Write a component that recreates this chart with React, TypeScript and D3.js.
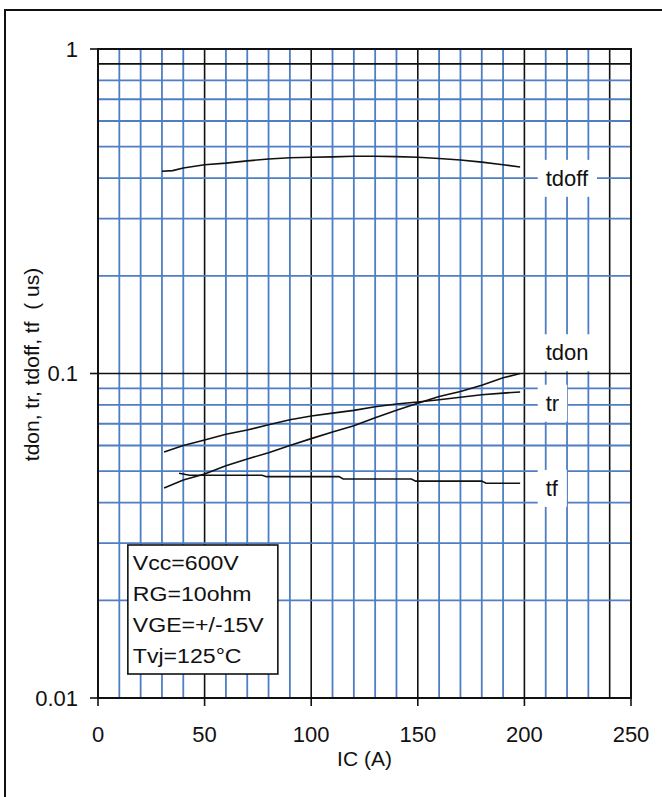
import { useEffect, useRef } from 'react';
import * as d3 from 'd3';

// switching times vs collector current (IC in A, time in us)
const tdoffData: [number, number][] = [
  [30, 0.42], [35, 0.422], [40, 0.43], [50, 0.44], [60, 0.445], [70, 0.452],
  [80, 0.458], [90, 0.462], [100, 0.464], [110, 0.465], [120, 0.467],
  [130, 0.467], [140, 0.466], [150, 0.464], [160, 0.46], [170, 0.455],
  [180, 0.448], [190, 0.44], [198, 0.433],
];
const tdonData: [number, number][] = [
  [31, 0.0444], [40, 0.047], [50, 0.049], [60, 0.052], [70, 0.0545],
  [80, 0.057], [90, 0.06], [100, 0.063], [110, 0.066], [120, 0.069],
  [130, 0.073], [140, 0.077], [150, 0.081], [160, 0.085], [170, 0.088],
  [180, 0.092], [190, 0.097], [198, 0.1],
];
const trData: [number, number][] = [
  [31, 0.0573], [40, 0.06], [50, 0.0624], [60, 0.065], [70, 0.067],
  [80, 0.0695], [90, 0.072], [100, 0.074], [110, 0.0755], [120, 0.077],
  [130, 0.079], [140, 0.0805], [150, 0.0817], [160, 0.083], [170, 0.0845],
  [180, 0.086], [190, 0.087], [198, 0.0877],
];
const tfData: [number, number][] = [
  [38, 0.0493], [43, 0.0486], [77, 0.0486], [79, 0.0481], [113, 0.0481],
  [115, 0.0473], [147, 0.0473], [149, 0.0466], [180, 0.0466], [182, 0.0459],
  [198, 0.0459],
];

const curves = [
  { name: 'tdoff', data: tdoffData, labelAt: 0.4 },
  { name: 'tdon', data: tdonData, labelAt: 0.116 },
  { name: 'tr', data: trData, labelAt: 0.0811 },
  { name: 'tf', data: tfData, labelAt: 0.0443 },
];

const xTicks = [0, 50, 100, 150, 200, 250];
const yTicks = [0.01, 0.1, 1];
const yTickLabels = ['0.01', '0.1', '1'];
const legendLines = ['Vcc=600V', 'RG=10ohm', 'VGE=+/-15V', 'Tvj=125°C'];

const WIDTH = 662;
const HEIGHT = 797;
const BLUE = '#4f7ec4';
const FONT = 'Arial, "Liberation Sans", sans-serif';

export default function App() {
  const svgRef = useRef<SVGSVGElement>(null);

  useEffect(() => {
    if (!svgRef.current) return;
    const svg = d3.select(svgRef.current);
    svg.selectAll('*').remove();

    const x = d3.scaleLinear().domain([0, 250]).range([98, 631]);
    const y = d3.scaleLog().domain([0.01, 1]).range([698, 49]);

    // outer frame
    svg.append('rect')
      .attr('x', 5).attr('y', 10)
      .attr('width', 700).attr('height', 820)
      .attr('fill', 'white')
      .attr('stroke', '#111').attr('stroke-width', 2);

    const grid = svg.append('g');

    // vertical grid every 10 A, black at 50s and at 240
    d3.range(10, 250, 10).forEach((v) => {
      const dark = v % 50 === 0 || v === 240;
      grid.append('line')
        .attr('x1', x(v)).attr('x2', x(v))
        .attr('y1', y(1)).attr('y2', y(0.01))
        .attr('stroke', dark ? '#111' : BLUE)
        .attr('stroke-width', dark ? 1.6 : 1.8);
    });

    // horizontal grid: 2..9 of each decade
    [0.01, 0.1].forEach((dec) => {
      d3.range(2, 10).forEach((m) => {
        const v = dec * m;
        const dark = v === 0.9;
        grid.append('line')
          .attr('x1', x(0)).attr('x2', x(250))
          .attr('y1', y(v)).attr('y2', y(v))
          .attr('stroke', dark ? '#111' : BLUE)
          .attr('stroke-width', dark ? 1.6 : 1.8);
      });
    });
    grid.append('line')
      .attr('x1', x(0)).attr('x2', x(250))
      .attr('y1', y(0.1)).attr('y2', y(0.1))
      .attr('stroke', '#111').attr('stroke-width', 1.6);

    // plot frame
    grid.append('rect')
      .attr('x', x(0)).attr('y', y(1))
      .attr('width', x(250) - x(0)).attr('height', y(0.01) - y(1))
      .attr('fill', 'none')
      .attr('stroke', '#111').attr('stroke-width', 2);

    // ticks
    xTicks.forEach((t) => {
      svg.append('line')
        .attr('x1', x(t)).attr('x2', x(t))
        .attr('y1', y(0.01)).attr('y2', y(0.01) + 8)
        .attr('stroke', '#111').attr('stroke-width', 1.6);
      svg.append('text')
        .attr('x', x(t)).attr('y', 742)
        .attr('text-anchor', 'middle')
        .attr('font-family', FONT).attr('font-size', 22)
        .attr('fill', '#111')
        .text(t);
    });
    yTicks.forEach((t, i) => {
      svg.append('line')
        .attr('x1', x(0) - 8).attr('x2', x(0))
        .attr('y1', y(t)).attr('y2', y(t))
        .attr('stroke', '#111').attr('stroke-width', 1.6);
      svg.append('text')
        .attr('x', 78).attr('y', y(t))
        .attr('dy', '0.35em')
        .attr('text-anchor', 'end')
        .attr('font-family', FONT).attr('font-size', 22)
        .attr('fill', '#111')
        .text(yTickLabels[i]);
    });

    // axis titles
    svg.append('text')
      .attr('x', x(125)).attr('y', 766)
      .attr('text-anchor', 'middle')
      .attr('font-family', FONT).attr('font-size', 21)
      .attr('fill', '#111')
      .text('IC (A)');
    svg.append('text')
      .attr('transform', `translate(39,${(y(1) + y(0.01)) / 2 - 9}) rotate(-90)`)
      .attr('text-anchor', 'middle')
      .attr('font-family', FONT).attr('font-size', 21)
      .attr('fill', '#111')
      .style('white-space', 'pre')
      .text('tdon, tr, tdoff, tf  ( us)');

    // curves
    const line = d3.line<[number, number]>()
      .x((d) => x(d[0]))
      .y((d) => y(d[1]))
      .curve(d3.curveLinear);

    curves.forEach((c) => {
      svg.append('path')
        .attr('d', line(c.data))
        .attr('fill', 'none')
        .attr('stroke', '#111')
        .attr('stroke-width', 1.6);
    });

    // curve labels on white patches
    curves.forEach((c) => {
      const lg = svg.append('g');
      const bg = lg.append('rect').attr('fill', 'white');
      const txt = lg.append('text')
        .attr('x', x(210)).attr('y', y(c.labelAt))
        .attr('dy', '0.35em')
        .attr('font-family', FONT).attr('font-size', 22)
        .attr('fill', '#111')
        .text(c.name);
      const bb = (txt.node() as SVGTextElement).getBBox();
      bg.attr('x', bb.x - 8).attr('y', bb.y - 6)
        .attr('width', bb.width + 16).attr('height', bb.height + 12);
    });

    // conditions box
    const leg = svg.append('g').attr('transform', `translate(${x(14)},545)`);
    leg.append('rect')
      .attr('width', 150).attr('height', 129)
      .attr('fill', 'white')
      .attr('stroke', '#111').attr('stroke-width', 1.6);
    legendLines.forEach((s, i) => {
      leg.append('text')
        .attr('transform', `translate(5,${25 + i * 31}) scale(1.1,1)`)
        .attr('font-family', FONT).attr('font-size', 21)
        .attr('fill', '#111')
        .text(s);
    });
  }, []);

  return (
    <svg
      ref={svgRef}
      width={WIDTH}
      height={HEIGHT}
      style={{ position: 'absolute', left: 0, top: 0, display: 'block' }}
    />
  );
}
